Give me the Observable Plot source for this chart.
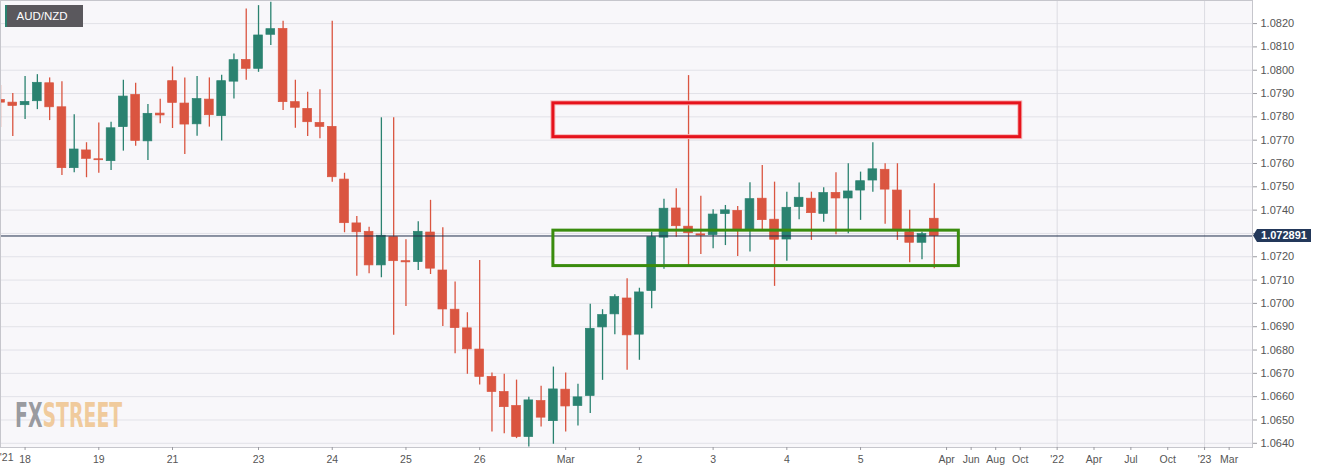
<!DOCTYPE html>
<html><head><meta charset="utf-8">
<script src="https://cdn.jsdelivr.net/npm/d3@7"></script>
<script src="https://cdn.jsdelivr.net/npm/@observablehq/plot@0.6"></script>
<style>body{margin:0;background:#fff;} #chart svg{display:block;}</style>
</head><body><div id="chart"></div>
<script>
// ---- data (4h candles, index = candle number) ----
const open = [
1.07872,1.07861,1.07850,1.07867,1.07944,1.07841,1.07580,1.07656,1.07618,1.07610,
1.07756,1.07894,1.07695,1.07814,1.07953,1.07857,1.07768,1.07874,1.07803,1.07951,
1.08044,1.08006,1.08152,1.08177,1.07863,1.07834,1.07774,1.07757,1.07531,1.07343,
1.07307,1.07163,1.07284,1.07181,1.07177,1.07304,1.07141,1.06973,1.06893,1.06802,
1.06685,1.06620,1.06560,1.06427,1.06581,1.06495,1.06630,1.06560,1.06603,1.06897,
1.06953,1.07021,1.06866,1.07053,1.07282,1.07407,1.07329,1.07296,1.07293,1.07383,
1.07397,1.07317,1.07449,1.07359,1.07274,1.07413,1.07449,1.07384,1.07474,1.07450,
1.07484,1.07527,1.07573,1.07484,1.07305,1.07260,1.07363];
const high = [
1.07934,1.07900,1.07973,1.07981,1.07967,1.07951,1.07809,1.07689,1.07774,1.07777,
1.07957,1.07944,1.07853,1.07876,1.08014,1.07967,1.07973,1.07967,1.07978,1.08070,
1.08263,1.08277,1.08291,1.08210,1.07957,1.07906,1.07916,1.08210,1.07558,1.07373,
1.07327,1.07796,1.07796,1.07273,1.07350,1.07442,1.07324,1.07092,1.06960,1.07184,
1.06702,1.06696,1.06671,1.06598,1.06645,1.06727,1.06702,1.06653,1.06996,1.06973,
1.07037,1.07106,1.07065,1.07305,1.07447,1.07492,1.07977,1.07459,1.07402,1.07420,
1.07416,1.07517,1.07591,1.07520,1.07477,1.07516,1.07477,1.07496,1.07560,1.07599,
1.07563,1.07689,1.07599,1.07599,1.07399,1.07305,1.07513];
const low = [
1.07754,1.07716,1.07789,1.07831,1.07784,1.07549,1.07560,1.07539,1.07558,1.07570,
1.07653,1.07674,1.07613,1.07770,1.07750,1.07639,1.07717,1.07756,1.07696,1.07877,
1.07957,1.07991,1.08106,1.07827,1.07751,1.07716,1.07706,1.07520,1.07303,1.07116,
1.07127,1.07110,1.06863,1.06987,1.07141,1.07124,1.06901,1.06784,1.06696,1.06650,
1.06448,1.06441,1.06420,1.06384,1.06470,1.06396,1.06448,1.06474,1.06528,1.06670,
1.06866,1.06713,1.06756,1.06977,1.07146,1.07284,1.07155,1.07210,1.07234,1.07248,
1.07201,1.07220,1.07313,1.07073,1.07181,1.07359,1.07270,1.07348,1.07294,1.07299,
1.07356,1.07477,1.07339,1.07270,1.07174,1.07187,1.07149];
const close = [
1.07861,1.07847,1.07864,1.07946,1.07841,1.07580,1.07660,1.07620,1.07614,1.07751,
1.07887,1.07697,1.07813,1.07806,1.07860,1.07767,1.07876,1.07807,1.07953,1.08043,
1.08006,1.08149,1.08176,1.07863,1.07839,1.07777,1.07757,1.07541,1.07344,1.07305,
1.07163,1.07290,1.07181,1.07176,1.07307,1.07149,1.06974,1.06894,1.06803,1.06685,
1.06620,1.06555,1.06427,1.06584,1.06510,1.06631,1.06558,1.06597,1.06891,1.06950,
1.07027,1.06863,1.07047,1.07284,1.07406,1.07331,1.07301,1.07291,1.07381,1.07399,
1.07316,1.07447,1.07357,1.07273,1.07410,1.07453,1.07387,1.07473,1.07450,1.07480,
1.07524,1.07575,1.07488,1.07316,1.07260,1.07297,1.072891];

const symbol = "AUD/NZD";
const lastPrice = 1.072891;

const xTickPos    = [2, 8, 14, 21, 27, 33, 39, 46, 52, 58, 64, 70, 77, 79, 81, 83, 86, 89, 92, 95, 98, 100];
const xTickLabels = ["18","19","21","23","24","25","26","Mar","2","3","4","5","Apr","Jun","Aug","Oct","'22","Apr","Jul","Oct","'23","Mar"];
const firstYearLabel = "'21";
const yearGridPos = [86, 98];

const yTicks = [1.0640,1.0650,1.0660,1.0670,1.0680,1.0690,1.0700,1.0710,1.0720,1.0730,
                1.0740,1.0750,1.0760,1.0770,1.0780,1.0790,1.0800,1.0810,1.0820];
const yTickLabels = ["1.0640","1.0650","1.0660","1.0670","1.0680","1.0690","1.0700","1.0710","1.0720","",
                "1.0740","1.0750","1.0760","1.0770","1.0780","1.0790","1.0800","1.0810","1.0820"];

// resistance (red) and support (green) zones
const resistX = [45, 83];
const resistY = [1.07713, 1.07858];
const supportX = [45, 78];
const supportY = [1.07160, 1.07312];

// ---- build ----
const GREEN = "#2a8270", RED = "#da5540";
const candles = open.map((o, i) => ({i, o, h: high[i], l: low[i], c: close[i], up: close[i] >= o}));
const resist = [{x1: resistX[0], x2: resistX[1], y1: resistY[0], y2: resistY[1]}];
const support = [{x1: supportX[0], x2: supportX[1], y1: supportY[0], y2: supportY[1]}];

const chart = Plot.plot({
  width: 1323, height: 473,
  marginLeft: 0, marginRight: 71, marginTop: 0, marginBottom: 26,
  x: {domain: [0, 101.9], axis: null},
  y: {domain: [1.06382, 1.08299], axis: null},
  color: {type: "identity"},
  style: {background: "#ffffff", fontFamily: "'Liberation Sans', Arial, sans-serif", overflow: "visible"},
  marks: [
    Plot.frame({fill: "#f8f7fa", stroke: null}),
    Plot.gridY(yTicks, {stroke: "#e2e2e8", strokeOpacity: 1}),
    Plot.gridX(yearGridPos, {stroke: "#dcdce2", strokeOpacity: 1}),
    Plot.ruleX(candles, {x: "i", y1: "l", y2: "h", stroke: d => d.up ? GREEN : RED, strokeWidth: 1.3, clip: true}),
    Plot.rect(candles, {x1: d => d.i - 0.355, x2: d => d.i + 0.355,
      y1: d => Math.min(d.o, d.c), y2: d => Math.max(d.o, d.c),
      fill: d => d.up ? GREEN : RED, stroke: d => d.up ? GREEN : RED, strokeWidth: 0.7, clip: true}),
    Plot.ruleY([lastPrice], {stroke: "#1f2e4a", strokeWidth: 1}),
    Plot.rect(resist, {x1: "x1", x2: "x2", y1: "y1", y2: "y2", fill: "none", stroke: "#f6b8b8", strokeWidth: 5}),
    Plot.rect(resist, {x1: "x1", x2: "x2", y1: "y1", y2: "y2", fill: "none", stroke: "#e6131c", strokeWidth: 3}),
    Plot.rect(support, {x1: "x1", x2: "x2", y1: "y1", y2: "y2", fill: "none", stroke: "#3a8c0e", strokeWidth: 3}),
    Plot.frame({stroke: "#c6c6cc"}),
    Plot.axisY({anchor: "right", ticks: yTicks, tickFormat: (d, i) => yTickLabels[i], tickSize: 4, tickPadding: 4,
      fontSize: 11, stroke: "#9a9aa0", fill: "#555555", label: null}),
    Plot.axisX({ticks: xTickPos, tickFormat: (d, i) => xTickLabels[i], tickSize: 3, tickPadding: 5,
      fontSize: 10.5, stroke: "#9a9aa0", fill: "#555555", label: null}),
    Plot.text([firstYearLabel], {frameAnchor: "bottom-left", dx: 13, dy: 13, textAnchor: "end",
      fontSize: 10.5, fill: "#555555"})
  ]
});

const svg = d3.select(chart);
// price tag on the right axis
const py = chart.scale("y").apply(lastPrice);
const tag = svg.append("g");
tag.append("path")
  .attr("d", `M1253,${py} L1257,${py - 6.5} H1311 V${py + 6.5} H1257 Z`)
  .attr("fill", "#23385a");
tag.append("text").attr("x", 1284).attr("y", py + 4).attr("text-anchor", "middle")
  .attr("fill", "#ffffff").attr("font-size", 11).attr("font-weight", "bold")
  .text(lastPrice.toFixed(6));

// symbol label
const lab = svg.append("g");
lab.append("rect").attr("x", 5).attr("y", 5).attr("width", 78).attr("height", 22).attr("fill", "#5a585d");
lab.append("rect").attr("x", 5).attr("y", 5).attr("width", 2).attr("height", 22).attr("fill", GREEN);
lab.append("text").attr("x", 16.5).attr("y", 20).attr("text-anchor", "start")
  .attr("fill", "#ffffff").attr("font-size", 11.5).text(symbol);

// watermark (one text, two coloured parts, stretched vertically)
const wm = svg.append("text").attr("transform", "translate(15,427) scale(1,1.6)")
  .attr("font-family", "'DejaVu Sans Condensed', 'Liberation Sans Narrow', sans-serif")
  .attr("font-weight", "bold").attr("font-size", 21).attr("text-anchor", "start");
wm.append("tspan").attr("fill", "#8d8e94").attr("fill-opacity", 0.9).text("FX");
wm.append("tspan").attr("fill", "#efc48c").attr("fill-opacity", 0.85).text("STREET");

document.getElementById("chart").appendChild(chart);
</script>
</body></html>
